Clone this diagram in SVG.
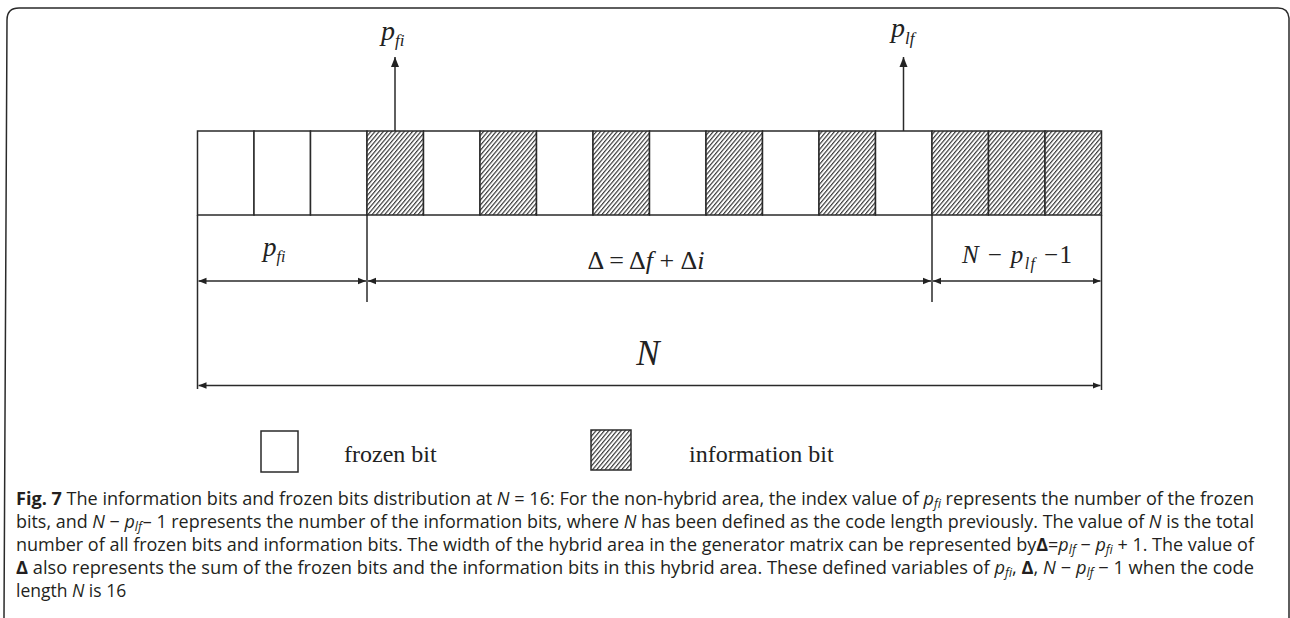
<svg xmlns="http://www.w3.org/2000/svg" width="1290" height="618" viewBox="0 0 1290 618">
<style>
.ln{stroke:#2a2a2a;stroke-width:1.5;fill:none}
.cell{stroke:#2a2a2a;stroke-width:1.5;fill:#fff}
.hat{stroke:#2a2a2a;stroke-width:1.5;fill:url(#hatch)}
.m{font-family:"Liberation Serif","Times New Roman",serif;fill:#222}
.it{font-style:italic}
.lg{font-family:"Liberation Serif","Times New Roman",serif;font-size:24px;fill:#222}
.cap{font-family:"Open Sans","Noto Sans",sans-serif;font-size:17.5px;fill:#231f20}
</style>
<defs>
<pattern id="hatch" patternUnits="userSpaceOnUse" width="3.2" height="10" patternTransform="rotate(40)">
<rect width="3.2" height="10" fill="#fff"/>
<line x1="0.6" y1="0" x2="0.6" y2="10" stroke="#2a2a2a" stroke-width="1.1"/>
</pattern>
<marker id="ah" viewBox="0 0 10 8" refX="10" refY="4" markerUnits="userSpaceOnUse" markerWidth="10" markerHeight="9" orient="auto-start-reverse">
<path d="M0,0 L10,4 L0,8 z" fill="#222"/>
</marker>
<marker id="ad" viewBox="0 0 10 8" refX="10" refY="4" markerUnits="userSpaceOnUse" markerWidth="8" markerHeight="8" orient="auto-start-reverse">
<path d="M0,0 L10,4 L0,8 z" fill="#222"/>
</marker>
</defs>
<rect width="1290" height="618" fill="#fff"/>
<path id="frame" class="ln" d="M4,618 L7,20 Q7,8 19,8 L1278,8 Q1288,8 1289,18 L1289,618" stroke-width="1.6"/>

<g id="cells">
<rect class="cell" x="197.5" y="131" width="56.5" height="84"/>
<rect class="cell" x="254" y="131" width="56.5" height="84"/>
<rect class="cell" x="310.5" y="131" width="56.5" height="84"/>
<rect class="hat" x="367" y="131" width="56.5" height="84"/>
<rect class="cell" x="423.5" y="131" width="56.5" height="84"/>
<rect class="hat" x="480" y="131" width="56.5" height="84"/>
<rect class="cell" x="536.5" y="131" width="56.5" height="84"/>
<rect class="hat" x="593" y="131" width="56.5" height="84"/>
<rect class="cell" x="649.5" y="131" width="56.5" height="84"/>
<rect class="hat" x="706" y="131" width="56.5" height="84"/>
<rect class="cell" x="762.5" y="131" width="56.5" height="84"/>
<rect class="hat" x="819" y="131" width="56.5" height="84"/>
<rect class="cell" x="875.5" y="131" width="56.5" height="84"/>
<rect class="hat" x="932" y="131" width="56.5" height="84"/>
<rect class="hat" x="988.5" y="131" width="56.5" height="84"/>
<rect class="hat" x="1045" y="131" width="56.5" height="84"/>
</g>

<g id="connectors">
<line class="ln" x1="395" y1="131" x2="395" y2="57" marker-end="url(#ah)"/>
<line class="ln" x1="903.5" y1="131" x2="903.5" y2="57" marker-end="url(#ah)"/>
<line class="ln" x1="197.5" y1="215" x2="197.5" y2="389"/>
<line class="ln" x1="367" y1="215" x2="367" y2="302"/>
<line class="ln" x1="932" y1="215" x2="932" y2="302"/>
<line class="ln" x1="1101.5" y1="215" x2="1101.5" y2="390"/>
<line class="ln" x1="198.5" y1="281" x2="366" y2="281" marker-start="url(#ad)" marker-end="url(#ad)"/>
<line class="ln" x1="368" y1="281" x2="931" y2="281" marker-start="url(#ad)" marker-end="url(#ad)"/>
<line class="ln" x1="933" y1="281" x2="1100.5" y2="281" marker-start="url(#ad)" marker-end="url(#ad)"/>
<line class="ln" x1="198.5" y1="385.5" x2="1100.5" y2="385.5" marker-start="url(#ad)" marker-end="url(#ad)"/>
</g>

<g id="labels">
<text class="m" x="381" y="40" font-size="28"><tspan class="it">p</tspan><tspan class="it" font-size="17" dy="6">fi</tspan></text>
<text class="m" x="891" y="37" font-size="28"><tspan class="it">p</tspan><tspan class="it" font-size="17" dy="7">lf</tspan></text>
<text class="m" x="263" y="256" font-size="27"><tspan class="it">p</tspan><tspan class="it" font-size="16" dy="6">fi</tspan></text>
<text class="m" x="646" y="269" font-size="26" text-anchor="middle">Δ = Δ<tspan class="it">f</tspan> + Δ<tspan class="it">i</tspan></text>
<text class="m" x="962" y="263" font-size="25" textLength="110" lengthAdjust="spacing"><tspan class="it">N</tspan> − <tspan class="it">p</tspan><tspan class="it" font-size="16" dy="6">lf</tspan><tspan dy="-6"> −1</tspan></text>
<text class="m it" x="648" y="365" font-size="35" text-anchor="middle">N</text>
</g>

<g id="legend-frozen">
<rect class="cell" x="261" y="431" width="37" height="41"/>
<text class="lg" x="344" y="462">frozen bit</text>
</g>
<g id="legend-info">
<rect class="hat" x="591" y="430" width="40" height="40"/>
<text class="lg" x="689" y="462">information bit</text>
</g>

<g id="caption">
<text class="cap" x="16" y="505" textLength="1238" lengthAdjust="spacingAndGlyphs"><tspan font-weight="bold">Fig. 7</tspan> The information bits and frozen bits distribution at <tspan font-style="italic">N</tspan> = 16: For the non-hybrid area, the index value of <tspan font-style="italic">p</tspan><tspan font-style="italic" font-size="12" dy="3">fi</tspan><tspan dy="-3"> represents the number of the frozen</tspan></text>
<text class="cap" x="16" y="528" textLength="1238" lengthAdjust="spacingAndGlyphs">bits, and <tspan font-style="italic">N</tspan> − <tspan font-style="italic">p</tspan><tspan font-style="italic" font-size="12" dy="3">lf</tspan><tspan dy="-3" dx="1">– 1 represents the number of the information bits, where </tspan><tspan font-style="italic">N</tspan> has been defined as the code length previously. The value of <tspan font-style="italic">N</tspan> is the total</text>
<text class="cap" x="16" y="551" textLength="1238" lengthAdjust="spacingAndGlyphs">number of all frozen bits and information bits. The width of the hybrid area in the generator matrix can be represented by<tspan font-weight="bold">Δ</tspan>=<tspan font-style="italic">p</tspan><tspan font-style="italic" font-size="12" dy="3">lf</tspan><tspan dy="-3"> − </tspan><tspan font-style="italic">p</tspan><tspan font-style="italic" font-size="12" dy="3">fi</tspan><tspan dy="-3"> + 1. The value of</tspan></text>
<text class="cap" x="16" y="574" textLength="1238" lengthAdjust="spacingAndGlyphs"><tspan font-weight="bold">Δ</tspan> also represents the sum of the frozen bits and the information bits in this hybrid area. These defined variables of <tspan font-style="italic">p</tspan><tspan font-style="italic" font-size="12" dy="3">fi</tspan><tspan dy="-3">, </tspan><tspan font-weight="bold">Δ</tspan>, <tspan font-style="italic">N</tspan> − <tspan font-style="italic">p</tspan><tspan font-style="italic" font-size="12" dy="3">lf</tspan><tspan dy="-3"> − 1 when the code</tspan></text>
<text class="cap" x="16" y="597">length <tspan font-style="italic">N</tspan> is 16</text>
</g>
</svg>
